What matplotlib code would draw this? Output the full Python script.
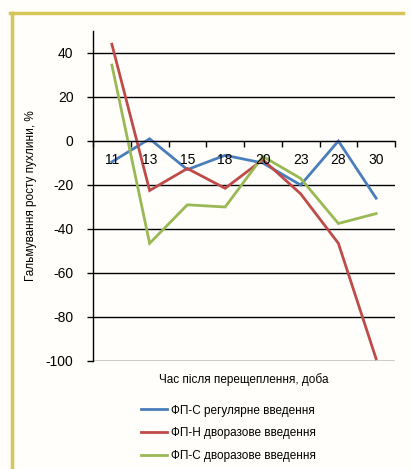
import matplotlib
matplotlib.use("Agg")
import matplotlib.pyplot as plt
from matplotlib.lines import Line2D

days = ["11", "13", "15", "18", "20", "23", "28", "30"]
fp_s_regular = [-9.5, 1, -13, -6.5, -10, -20, 0, -26]
fp_n_twice = [44, -22.5, -12.5, -21.5, -8.5, -24, -46.5, -99]
fp_s_twice = [34.5, -46.5, -29, -30, -7, -17, -37.5, -33]

series_labels = ["ФП-С регулярне введення",
                 "ФП-Н дворазове введення",
                 "ФП-С дворазове введення"]
colors = ["#4a7ebb", "#be4b48", "#98b954"]

plt.rcParams["font.family"] = ["Liberation Sans", "DejaVu Sans"]
plt.rcParams["axes.unicode_minus"] = False

W, H = 411, 469
fig = plt.figure(figsize=(W / 100, H / 100), dpi=100, facecolor="#fffefa")
ax = fig.add_axes([93 / W, 1 - 361 / H, (395 - 93) / W, (361 - 31) / H])
ax.set_facecolor("none")

x = list(range(len(days)))
for vals, c, lab in zip([fp_s_regular, fp_n_twice, fp_s_twice], colors, series_labels):
    ax.plot(x, vals, color=c, lw=2, label=lab, solid_joinstyle="miter")

ax.set_xlim(-0.5, len(days) - 0.5)
ax.set_ylim(-100, 50)
ax.set_yticks(range(-100, 41, 20))
ax.yaxis.grid(True, color="black", lw=1)
ax.set_axisbelow(True)
ax.tick_params(axis="y", direction="out", length=4, width=1, pad=10, labelsize=10)

# category axis crosses at zero, ticks between categories
for s in ["top", "right"]:
    ax.spines[s].set_visible(False)
ax.spines["bottom"].set_position(("data", 0))
ax.spines["left"].set_linewidth(1)
ax.set_xticks([i - 0.5 for i in range(len(days) + 1)])
ax.set_xticklabels([])
ax.tick_params(axis="x", direction="out", length=4, width=1)
for i, d in enumerate(days):
    ax.text(i, -5.5, d, ha="center", va="top", fontsize=10)

ax.set_ylabel("Гальмування росту пухлини, %", fontsize=8.5, labelpad=6)
fig.text(244 / W, 1 - 380 / H, "Час після перещеплення, доба",
         ha="center", va="center", fontsize=8.5)

fig.legend(loc="upper left", bbox_to_anchor=(130 / W, 1 - 394 / H),
           frameon=False, fontsize=8.5, handlelength=2.2, labelspacing=0.9,
           handletextpad=0.4)

# golden frame around the chart
fig.add_artist(Line2D([10 / W, 403 / W], [1 - 13 / H, 1 - 13 / H], color="#d6c65a", lw=2.5))
fig.add_artist(Line2D([11.5 / W, 11.5 / W], [0, 1 - 13 / H], color="#d6c65a", lw=2.5))

fig.savefig("out.png", dpi=100, facecolor=fig.get_facecolor())
